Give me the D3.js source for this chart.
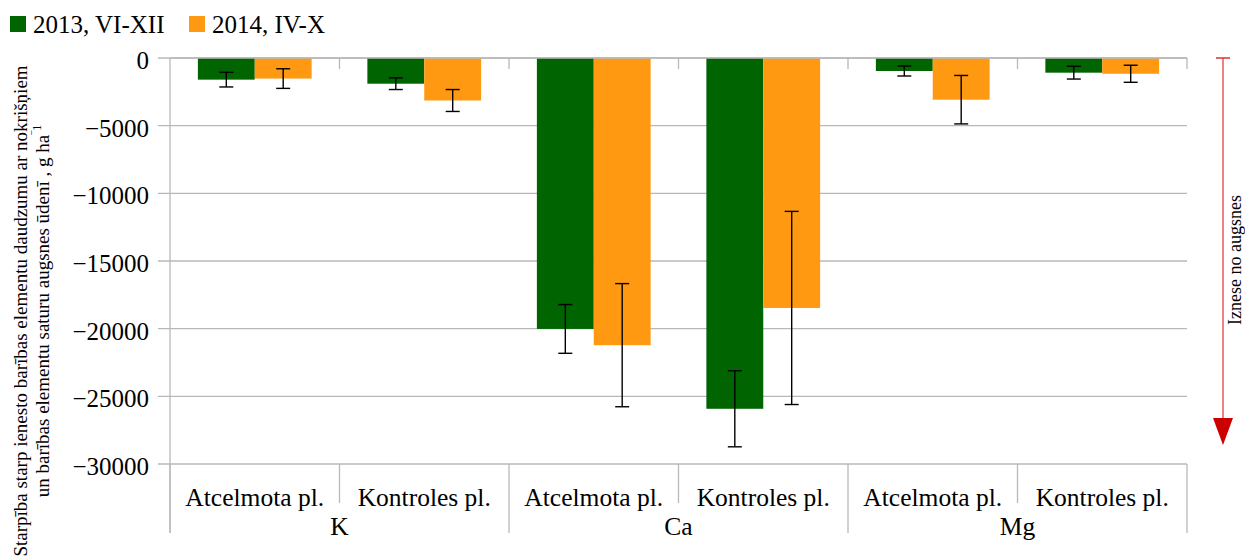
<!DOCTYPE html>
<html>
<head>
<meta charset="utf-8">
<script src="https://cdn.jsdelivr.net/npm/d3@7"></script>
<style>
  body { margin: 0; background: #fff; }
  text { font-family: "Liberation Serif", "Times New Roman", serif; fill: #000; }
</style>
</head>
<body>
<svg id="chart" width="1245" height="557"></svg>
<script>
// data
const groups = ["K", "Ca", "Mg"];
const plots = ["Atcelmota pl.", "Kontroles pl."];
const seriesNames = ["2013, VI-XII", "2014, IV-X"];
const values2013 = [-1600, -1900, -20020, -25920, -960, -1085];
const errors2013 = [540, 430, 1800, 2810, 370, 470];
const values2014 = [-1520, -3140, -21220, -18470, -3080, -1165];
const errors2014 = [725, 810, 4550, 7135, 1790, 630];
const yTicks = [0, -5000, -10000, -15000, -20000, -25000, -30000];
const colors = ["#006400", "#ff9912"];

const plotLeft = 170, plotRight = 1187, plotTop = 58, plotBottom = 464;

const svg = d3.select("#chart");

// one slot per (group, plot)
const slots = [];
groups.forEach(g => plots.forEach(p => slots.push({group: g, plot: p, key: g + "|" + p})));

const rows = [];
slots.forEach((s, i) => {
    rows.push({slot: s.key, series: seriesNames[0], value: values2013[i], err: errors2013[i]});
    rows.push({slot: s.key, series: seriesNames[1], value: values2014[i], err: errors2014[i]});
});

const x0 = d3.scaleBand().domain(slots.map(s => s.key)).range([plotLeft, plotRight]);
const x1 = d3.scaleBand().domain(seriesNames).range([0, x0.bandwidth()]).paddingOuter(0.49);
const y = d3.scaleLinear().domain([-30000, 0]).range([plotBottom, plotTop]);
const color = d3.scaleOrdinal().domain(seriesNames).range(colors);

const gridColor = "#b8b8b8";

// gridlines
svg.append("g")
    .selectAll("line")
    .data(yTicks)
    .enter()
    .append("line")
    .attr("x1", plotLeft - 12)
    .attr("x2", plotRight)
    .attr("y1", d => y(d))
    .attr("y2", d => y(d))
    .attr("stroke", gridColor)
    .attr("stroke-width", 1.3);

// y axis labels
const yAxis = svg.append("g")
    .attr("transform", `translate(${plotLeft},0)`)
    .call(d3.axisLeft(y).tickValues(yTicks).tickSize(12).tickPadding(9).tickFormat(d3.format("d")));
yAxis.select(".domain").remove();
yAxis.selectAll("line").remove();
yAxis.selectAll("text")
    .style("font-family", '"Liberation Serif", serif')
    .style("font-size", "25px")
    .attr("dy", "0.42em");

// bars
svg.append("g")
    .selectAll("rect")
    .data(rows)
    .enter()
    .append("rect")
    .attr("x", d => x0(d.slot) + x1(d.series))
    .attr("y", y(0))
    .attr("width", x1.bandwidth())
    .attr("height", d => y(d.value) - y(0))
    .attr("fill", d => color(d.series));

// error bars
const errG = svg.append("g").attr("stroke", "#000").attr("stroke-width", 1.4);
const cx = d => x0(d.slot) + x1(d.series) + x1.bandwidth() / 2;
errG.selectAll(".stem")
    .data(rows)
    .enter()
    .append("line")
    .attr("x1", cx).attr("x2", cx)
    .attr("y1", d => y(d.value + d.err))
    .attr("y2", d => y(d.value - d.err));
errG.selectAll(".capTop")
    .data(rows)
    .enter()
    .append("line")
    .attr("x1", d => cx(d) - 7).attr("x2", d => cx(d) + 7)
    .attr("y1", d => y(d.value + d.err))
    .attr("y2", d => y(d.value + d.err));
errG.selectAll(".capBot")
    .data(rows)
    .enter()
    .append("line")
    .attr("x1", d => cx(d) - 7).attr("x2", d => cx(d) + 7)
    .attr("y1", d => y(d.value - d.err))
    .attr("y2", d => y(d.value - d.err));

// y axis line
svg.append("line")
    .attr("x1", plotLeft).attr("x2", plotLeft)
    .attr("y1", plotTop).attr("y2", 533)
    .attr("stroke", gridColor).attr("stroke-width", 1.3);

// zero line with ticks at slot boundaries
svg.append("line")
    .attr("x1", plotLeft).attr("x2", plotRight)
    .attr("y1", y(0)).attr("y2", y(0))
    .attr("stroke", gridColor).attr("stroke-width", 1.3);
const bounds = slots.map(s => x0(s.key) + x0.bandwidth());
svg.append("g")
    .selectAll("line")
    .data(bounds)
    .enter()
    .append("line")
    .attr("x1", d => d).attr("x2", d => d)
    .attr("y1", y(0)).attr("y2", y(0) + 11)
    .attr("stroke", gridColor).attr("stroke-width", 1.3);

// category dividers below the plot
svg.append("g")
    .selectAll("line")
    .data(slots.map((s, i) => ({x: x0(s.key), groupStart: i % plots.length === 0})).concat([{x: plotRight, groupStart: true}]))
    .enter()
    .append("line")
    .attr("x1", d => d.x).attr("x2", d => d.x)
    .attr("y1", plotBottom)
    .attr("y2", d => d.groupStart ? 533 : 503)
    .attr("stroke", gridColor).attr("stroke-width", 1.3);

// plot labels
svg.append("g")
    .selectAll("text")
    .data(slots)
    .enter()
    .append("text")
    .attr("x", d => x0(d.key) + x0.bandwidth() / 2)
    .attr("y", 506)
    .attr("text-anchor", "middle")
    .style("font-size", "25.5px")
    .text(d => d.plot);

// group labels
svg.append("g")
    .selectAll("text")
    .data(groups)
    .enter()
    .append("text")
    .attr("x", g => (x0(g + "|" + plots[0]) + x0(g + "|" + plots[plots.length - 1]) + x0.bandwidth()) / 2)
    .attr("y", 535)
    .attr("text-anchor", "middle")
    .style("font-size", "25.5px")
    .text(g => g);

// legend
const legend = svg.append("g")
    .selectAll("g")
    .data(seriesNames)
    .enter()
    .append("g")
    .attr("transform", (d, i) => `translate(${i === 0 ? 10 : 189},16)`);
legend.append("rect")
    .attr("width", 16).attr("height", 16)
    .attr("fill", d => color(d));
legend.append("text")
    .attr("x", 23).attr("y", 17)
    .style("font-size", "25px")
    .text(d => d);

// y axis title
const yTitle = svg.append("text")
    .attr("transform", "translate(0,311) rotate(-90)")
    .attr("text-anchor", "middle")
    .style("font-size", "19px");
yTitle.append("tspan")
    .attr("x", 0).attr("y", 27)
    .text("Starpība starp ienesto barības elementu daudzumu ar nokrišņiem");
yTitle.append("tspan")
    .attr("x", 0).attr("y", 49)
    .text("un barības elementu saturu augsnes ūdenī , g ha");
yTitle.append("tspan")
    .attr("dy", -8)
    .style("font-size", "12px")
    .text("‾1");

// arrow on the right
const arrowX = 1223;
svg.append("line")
    .attr("x1", arrowX).attr("x2", arrowX)
    .attr("y1", y(0)).attr("y2", 430)
    .attr("stroke", "#e03030").attr("stroke-width", 1.2);
svg.append("line")
    .attr("x1", arrowX - 7).attr("x2", arrowX + 7)
    .attr("y1", y(0)).attr("y2", y(0))
    .attr("stroke", "#e03030").attr("stroke-width", 1.5);
svg.append("path")
    .attr("d", `M${arrowX - 10},418 L${arrowX + 10},418 L${arrowX},445 Z`)
    .attr("fill", "#cc0000");
svg.append("text")
    .attr("transform", "translate(1241,260) rotate(-90)")
    .attr("text-anchor", "middle")
    .style("font-size", "18px")
    .text("Iznese no augsnes");
</script>
</body>
</html>
